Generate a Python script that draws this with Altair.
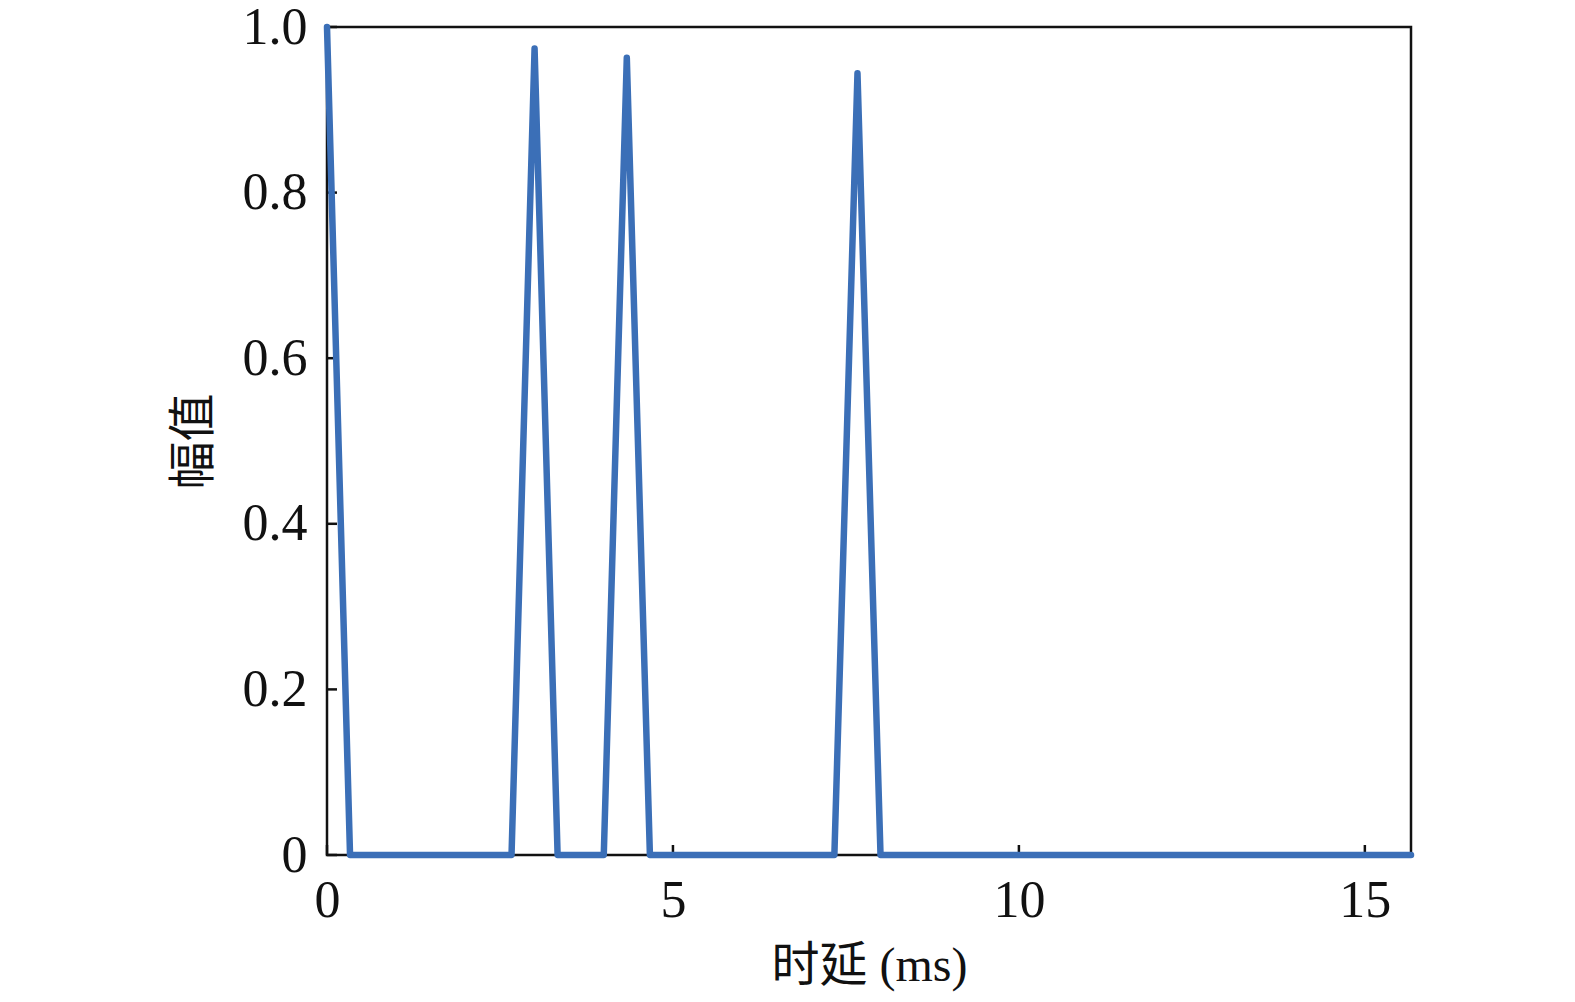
import altair as alt
import pandas as pd

# Breakpoints of the impulse-response line (delay in ms, amplitude)
delay_ms = [0.0, 0.333, 2.667, 3.0, 3.333, 4.0, 4.333, 4.667, 7.333, 7.667, 8.0, 15.667]
amplitude = [1.0, 0.0, 0.0, 0.974, 0.0, 0.0, 0.963, 0.0, 0.0, 0.944, 0.0, 0.0]

x_ticks = [0, 5, 10, 15]
y_ticks = [0, 0.2, 0.4, 0.6, 0.8, 1.0]

W, H = 1084, 828
FONT = "Liberation Serif, Times New Roman, Noto Sans CJK SC"

df = pd.DataFrame({"t": delay_ms, "a": amplitude})
xt = pd.DataFrame({"v": x_ticks})
yt = pd.DataFrame({"v": y_ticks})

xs = alt.Scale(domain=[0, 15.667], nice=False, zero=False)
ys = alt.Scale(domain=[0, 1.0], nice=False)

line = alt.Chart(df).mark_line(
    color="#3b6fb7", strokeWidth=6.5, strokeCap="round", strokeJoin="round", clip=False
).encode(
    x=alt.X("t:Q", scale=xs, axis=alt.Axis(
        values=x_ticks, format="d", title="时延 (ms)", domain=False, ticks=False, grid=False,
        labelFontSize=52, labelPadding=20, titleFontSize=48, titlePadding=16,
        labelFont=FONT, titleFont=FONT, labelColor="#111", titleColor="#111",
        titleFontWeight="normal", labelFlush=False)),
    y=alt.Y("a:Q", scale=ys, axis=alt.Axis(
        values=y_ticks, title="幅值", domain=False, ticks=False, grid=False,
        labelExpr="datum.value == 0 ? '0' : format(datum.value, '.1f')",
        labelFontSize=52, labelPadding=20, titleFontSize=48, titlePadding=24,
        labelFont=FONT, titleFont=FONT, labelColor="#111", titleColor="#111",
        titleFontWeight="normal", labelFlush=False)),
)

xtick = alt.Chart(xt).mark_rule(color="#111", strokeWidth=2.5).encode(
    x=alt.X("v:Q", scale=xs), y=alt.value(H), y2=alt.value(H - 10)
)
ytick = alt.Chart(yt).mark_rule(color="#111", strokeWidth=2.5).encode(
    y=alt.Y("v:Q", scale=ys), x=alt.value(0), x2=alt.value(10)
)

chart = alt.layer(xtick, ytick, line).properties(
    width=W, height=H,
    background="white",
    autosize=alt.AutoSizeParams(type="none"),
    padding={"left": 319, "top": 19, "right": 150, "bottom": 140},
).configure_view(
    stroke="#111", strokeWidth=2.5
)

chart.save("out.html", embed_options={"renderer": "svg", "actions": False})
